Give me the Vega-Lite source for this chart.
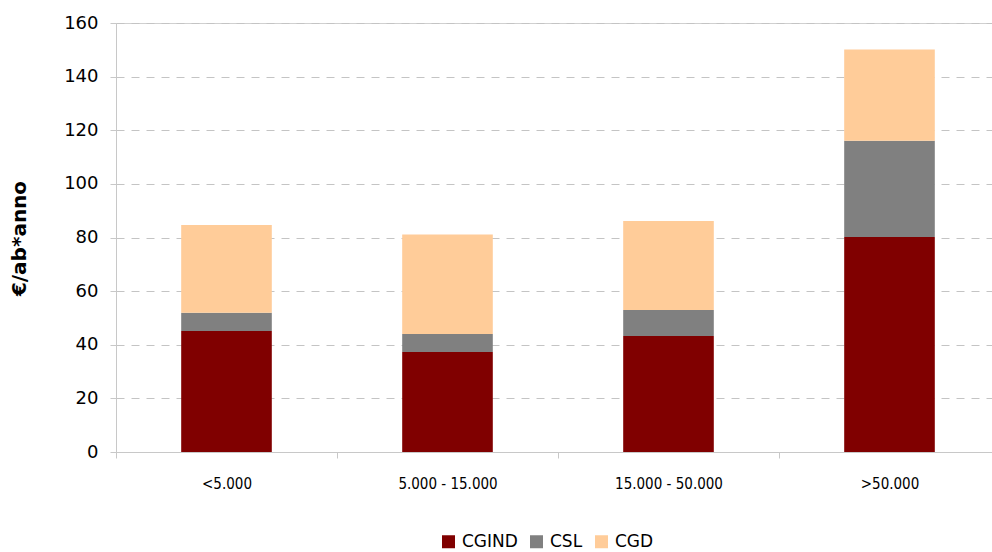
{
  "$schema": "https://vega.github.io/schema/vega-lite/v6.json",
  "width": 884,
  "height": 429,
  "autosize": {"type": "none"},
  "padding": {"left": 116, "top": 23, "right": 0, "bottom": 100},
  "background": "white",
  "config": {
    "view": {"stroke": "#d0d0d0", "strokeWidth": 1},
    "font": "DejaVu Sans"
  },
  "data": {
    "values": [
      {"classe": "<5.000", "voce": "CGIND", "ord": 1, "valore": 45.1},
      {"classe": "<5.000", "voce": "CSL", "ord": 2, "valore": 6.8},
      {"classe": "<5.000", "voce": "CGD", "ord": 3, "valore": 32.8},
      {"classe": "5.000 - 15.000", "voce": "CGIND", "ord": 1, "valore": 37.3},
      {"classe": "5.000 - 15.000", "voce": "CSL", "ord": 2, "valore": 6.7},
      {"classe": "5.000 - 15.000", "voce": "CGD", "ord": 3, "valore": 37.1},
      {"classe": "15.000 - 50.000", "voce": "CGIND", "ord": 1, "valore": 43.3},
      {"classe": "15.000 - 50.000", "voce": "CSL", "ord": 2, "valore": 9.7},
      {"classe": "15.000 - 50.000", "voce": "CGD", "ord": 3, "valore": 33.2},
      {"classe": ">50.000", "voce": "CGIND", "ord": 1, "valore": 80.2},
      {"classe": ">50.000", "voce": "CSL", "ord": 2, "valore": 35.9},
      {"classe": ">50.000", "voce": "CGD", "ord": 3, "valore": 34.0}
    ]
  },
  "mark": {"type": "bar", "width": {"band": 0.41}},
  "encoding": {
    "x": {
      "field": "classe",
      "type": "nominal",
      "sort": null,
      "scale": {"paddingInner": 0, "paddingOuter": 0},
      "axis": {
        "title": null,
        "labelAngle": 0,
        "tickBand": "extent",
        "domainColor": "#c8c8c8",
        "tickColor": "#c8c8c8",
        "tickSize": 6,
        "labelFont": "DejaVu Sans Condensed",
        "labelFontSize": 15,
        "labelColor": "#000000",
        "labelPadding": 18,
        "grid": false
      }
    },
    "y": {
      "field": "valore",
      "type": "quantitative",
      "stack": "zero",
      "scale": {"domain": [0, 160], "nice": false},
      "axis": {
        "title": "€/ab*anno",
        "values": [0, 20, 40, 60, 80, 100, 120, 140, 160],
        "grid": true,
        "gridColor": "#c4c4c4",
        "gridDash": [8, 7],
        "gridWidth": 1,
        "domainColor": "#c8c8c8",
        "tickColor": "#c8c8c8",
        "tickSize": 6,
        "labelFont": "DejaVu Sans",
        "labelFontSize": 18,
        "labelColor": "#000000",
        "labelPadding": 12,
        "titleFont": "DejaVu Sans",
        "titleFontSize": 20,
        "titleFontWeight": "bold",
        "titleColor": "#000000",
        "titleX": -97,
        "titleY": 215,
        "titleAngle": 270,
        "titleAlign": "center",
        "titleBaseline": "middle"
      }
    },
    "color": {
      "field": "voce",
      "type": "nominal",
      "scale": {"domain": ["CGIND", "CSL", "CGD"], "range": ["#800000", "#808080", "#ffcc99"]},
      "legend": {
        "title": null,
        "orient": "none",
        "direction": "horizontal",
        "legendX": 324,
        "legendY": 510,
        "padding": 0,
        "symbolType": "square",
        "symbolSize": 169,
        "symbolStrokeWidth": 0,
        "symbolOpacity": 1,
        "labelFont": "DejaVu Sans",
        "labelFontSize": 17,
        "labelColor": "#000000",
        "labelOffset": 5,
        "columnPadding": 10
      }
    },
    "order": {"field": "ord", "type": "quantitative"}
  }
}
